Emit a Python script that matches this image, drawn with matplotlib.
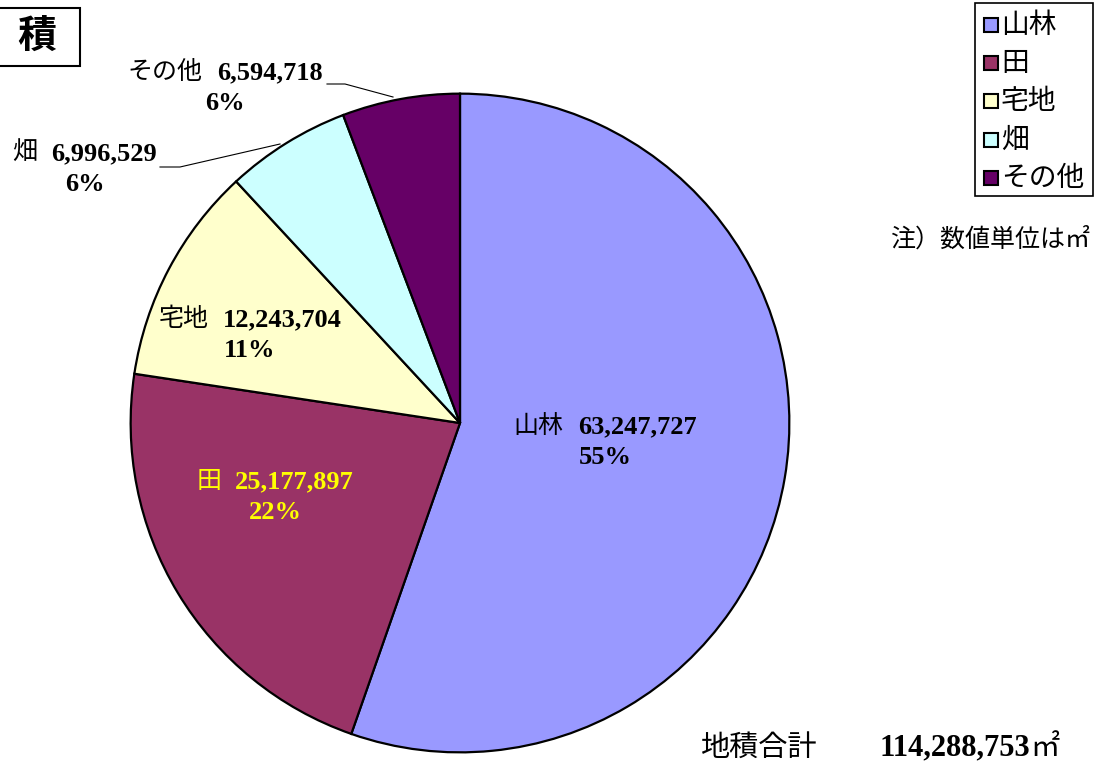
import matplotlib
matplotlib.use('Agg')
import matplotlib.pyplot as plt
from matplotlib.offsetbox import TextArea, HPacker, VPacker, AnnotationBbox
from matplotlib.patches import Rectangle

# data
names = ['山林', '田', '宅地', '畑', 'その他']
areas = [63247727, 25177897, 12243704, 6996529, 6594718]
pcts = [55, 22, 11, 6, 6]
colors = ['#9999FF', '#993366', '#FFFFCC', '#CCFFFF', '#660066']
total_area = 114288753

JP = 'Noto Sans CJK JP'
NUM = 'Liberation Serif'

W, H = 1098, 766
fig = plt.figure(figsize=(W / 100, H / 100), dpi=100)
fig.patch.set_facecolor('white')

# pie axes: center (460, 423), radius 331 px
cx, cy, r = 460, 423, 331
ax = fig.add_axes([(cx - r) / W, (H - cy - r) / H, 2 * r / W, 2 * r / H])
ax.pie(areas, colors=colors, startangle=90, counterclock=False, radius=1,
       wedgeprops=dict(edgecolor='black', linewidth=1.6))
ax.set_xlim(-1.005, 1.005)
ax.set_ylim(-1.005, 1.005)
ax.set_aspect('equal')
ax.axis('off')

# overlay axes in pixel coordinates
ov = fig.add_axes([0, 0, 1, 1])
ov.set_xlim(0, W)
ov.set_ylim(H, 0)
ov.axis('off')
ov.patch.set_alpha(0)

label_pos = [(605, 441), (275, 496), (250, 334), (85, 168), (225, 87)]
label_col = ['black', '#FFFF00', 'black', 'black', 'black']
for n, a, p, (x, y), c in zip(names, areas, pcts, label_pos, label_col):
    t1 = TextArea(n, textprops=dict(family=JP, fontsize=18, color=c))
    t2 = TextArea(f'{a:,}', textprops=dict(family=NUM, fontsize=19,
                                           fontweight='bold', color=c))
    row = HPacker(children=[t1, t2], sep=10, pad=0, align='baseline')
    t3 = TextArea(f'{p}%', textprops=dict(family=NUM, fontsize=19,
                                          fontweight='bold', color=c))
    box = VPacker(children=[row, t3], sep=5, pad=0, align='center')
    ab = AnnotationBbox(box, (x, y), xycoords='data', frameon=False,
                        box_alignment=(0.5, 0.5))
    ov.add_artist(ab)

# leader lines
ov.plot([327, 345, 393], [84, 84, 97], color='black', lw=0.8)
ov.plot([160, 180, 280], [167, 167, 144], color='black', lw=0.8)

# title box
ov.add_patch(Rectangle((-5, 8), 85, 58, fill=False, edgecolor='black', lw=1.5))
ov.text(37, 36, '積', family=JP, fontsize=28, fontweight='bold',
        ha='center', va='center')

# legend box
ov.add_patch(Rectangle((975, 3), 118, 193, fill=False, edgecolor='black', lw=1.2))
ys = [25, 63, 101, 140, 178]
for n, c, y in zip(names, colors, ys):
    ov.add_patch(Rectangle((984, y - 7), 14, 14, facecolor=c,
                           edgecolor='black', lw=1.5))
    ov.text(1001, y, n, family=JP, fontsize=20, ha='left', va='center')

# notes
ov.text(1090, 240, '注）数値単位は㎡', family=JP, fontsize=18,
        ha='right', va='center')
ov.text(700, 748, '地積合計', family=JP, fontsize=21, ha='left', va='center')
ov.text(1030, 748, f'{total_area:,}', family=NUM, fontsize=22,
        fontweight='bold', ha='right', va='center')
ov.text(1030, 748, '㎡', family=JP, fontsize=21, ha='left', va='center')

fig.savefig('out.png', dpi=100)
